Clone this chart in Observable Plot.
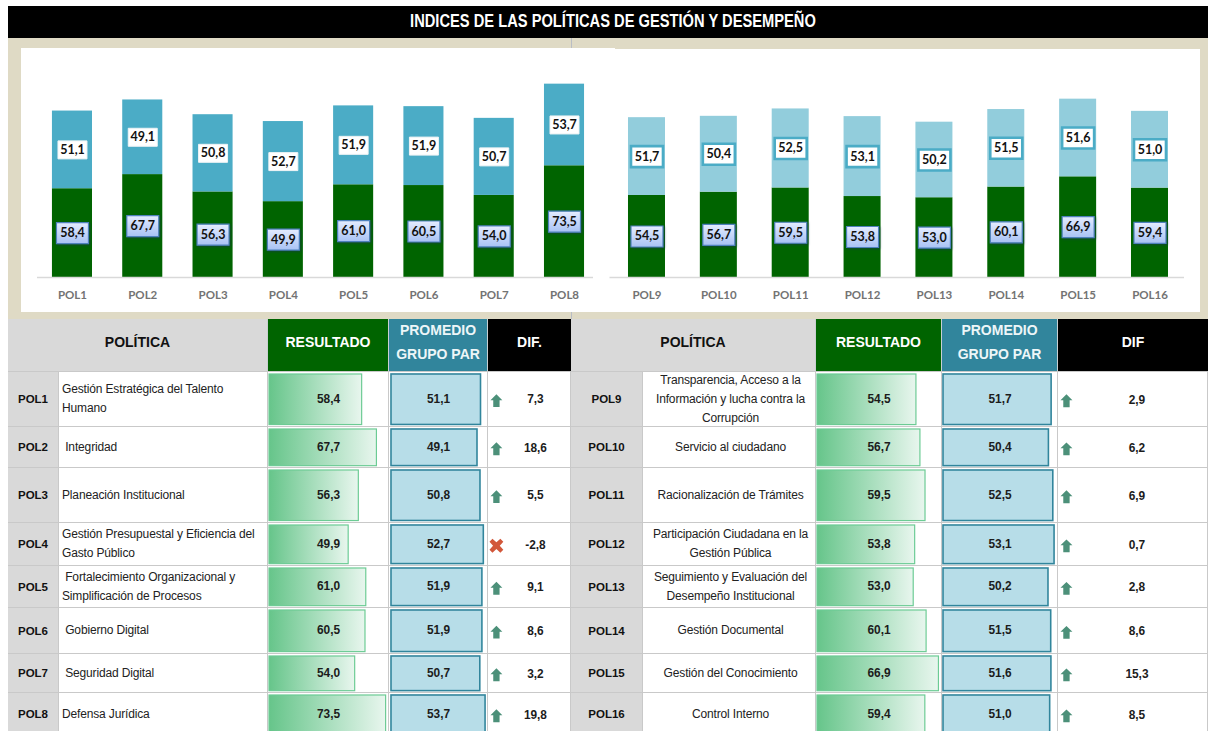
<!DOCTYPE html>
<html lang="es">
<head>
<meta charset="utf-8">
<script src="https://cdn.jsdelivr.net/npm/d3@7"></script>
<script src="https://cdn.jsdelivr.net/npm/@observablehq/plot@0.6"></script>
<style>
html,body{margin:0;padding:0;background:#fff;width:1208px;height:731px;overflow:hidden}
#page{position:relative;width:1208px;height:731px;overflow:hidden;font-family:"Liberation Sans",Arial,sans-serif}
.box{position:absolute;box-sizing:border-box}
.cell{display:flex;align-items:center;justify-content:center;text-align:center;box-sizing:border-box;position:absolute}
.shadow{filter:drop-shadow(1px 1.5px 1px rgba(30,50,90,.55))}
svg{display:block}
</style>
</head>
<body>
<svg width="0" height="0" style="position:absolute">
  <defs>
    <linearGradient id="gradBar" x1="0" x2="1" y1="0" y2="0"><stop offset="0" stop-color="#66C58A"/><stop offset="1" stop-color="#E8F6EE"/></linearGradient>
    <linearGradient id="gradEtq" x1="0" x2="0" y1="0" y2="1"><stop offset="0" stop-color="#E4ECFF"/><stop offset="1" stop-color="#A8C2F4"/></linearGradient>
  </defs>
</svg>
<div id="page"></div>
<script>
const politicas = ["POL1","POL2","POL3","POL4","POL5","POL6","POL7","POL8","POL9","POL10","POL11","POL12","POL13","POL14","POL15","POL16"];
const resultado = [58.4,67.7,56.3,49.9,61.0,60.5,54.0,73.5,54.5,56.7,59.5,53.8,53.0,60.1,66.9,59.4];
const promedio  = [51.1,49.1,50.8,52.7,51.9,51.9,50.7,53.7,51.7,50.4,52.5,53.1,50.2,51.5,51.6,51.0];
const dif       = [7.3,18.6,5.5,-2.8,9.1,8.6,3.2,19.8,2.9,6.2,6.9,0.7,2.8,8.6,15.3,8.5];
const nombres = [
 "Gestión Estratégica del Talento\nHumano"," Integridad","Planeación Institucional",
 "Gestión Presupuestal y Eficiencia del\nGasto Público"," Fortalecimiento Organizacional y\nSimplificación de Procesos",
 " Gobierno Digital"," Seguridad Digital","Defensa Jurídica",
 "Transparencia, Acceso a la\nInformación y lucha contra la\nCorrupción","Servicio al ciudadano","Racionalización de Trámites",
 "Participación Ciudadana en la\nGestión Pública","Seguimiento y Evaluación del\nDesempeño Institucional","Gestión Documental","Gestión del Conocimiento","Control Interno"];
const titulo = "INDICES DE LAS POLÍTICAS DE GESTIÓN Y DESEMPEÑO";
const encabezadoIzq = ["POLÍTICA","RESULTADO","PROMEDIO\nGRUPO PAR","DIF."];
const encabezadoDer = ["POLÍTICA","RESULTADO","PROMEDIO\nGRUPO PAR","DIF"];

const fmt = v => d3.format(".1f")(v).replace(".",",").replace("−","-");
const page = document.getElementById("page");
function box(l,t,w,h,css="",cls="box"){
  const d=document.createElement("div");d.className=cls;
  d.style.cssText=`left:${l}px;top:${t}px;width:${w}px;height:${h}px;${css}`;
  page.appendChild(d);return d;
}
// frame
box(8,6,1200,32,"background:#000");
const t=box(8,6,1200,32,"color:#fff;font:700 16.5px 'Liberation Sans Narrow','Liberation Sans',sans-serif","cell");
t.innerHTML=`<span style="display:inline-block;transform:translate(5px,-2px) scale(.89,1.1)">${titulo}</span>`;
box(8,38,1200,281,"background:#DFDAC5");
box(571,38,1,281,"background:#B9BDC4");
box(21,48,594,264,"background:#fff");
box(571,49,629,263,"background:#fff");

// charts
const rect=(w,h)=>({draw(c){c.rect(-w/2,-h/2,w,h)}});
const FONT="Lato,'Open Sans',sans-serif";
function chart(l,w,from,to,opt){
  const pols=politicas.slice(from,to);
  const filas=pols.flatMap((p,i)=>{
    const a=resultado[from+i],b=promedio[from+i];
    return [{pol:p,serie:"Resultado",valor:a,medio:a/2},{pol:p,serie:"Promedio",valor:b,medio:a+b/2}];
  });
  const verde=filas.filter(d=>d.serie==="Resultado"),azul=filas.filter(d=>d.serie==="Promedio");
  const txt={x:"pol",y:"medio",text:d=>fmt(d.valor),fontWeight:700,fontSize:12.5,fill:"#111",fontFamily:FONT};
  const svg=Plot.plot({
    width:w,height:263,marginTop:0,marginBottom:35,marginLeft:opt.ml,marginRight:opt.mr,
    style:{fontFamily:FONT,background:"transparent"},
    x:{domain:pols,padding:opt.pad,paddingOuter:opt.outer,align:opt.align,round:false,axis:null},
    y:{domain:[0,opt.top],axis:null},
    color:{domain:["Resultado","Promedio"],range:["#006400",opt.azul]},
    marks:[
      Plot.barY(filas,Plot.stackY({x:"pol",y:"valor",fill:"serie"})),
      Plot.ruleY([0],{stroke:"#D9D9D9",strokeWidth:1.5}),
      Plot.axisX({domain:pols,tickSize:0,tickPadding:13,label:null,fontWeight:700,fontSize:11.5,fill:"#737373"}),
      Plot.dot(verde,{x:"pol",y:"medio",symbol:rect(32,21),fill:"url(#gradEtq)",stroke:"#4F81BD",strokeWidth:1.2,className:"shadow"}),
      Plot.dot(azul,{x:"pol",y:"medio",symbol:opt.caja,fill:"#fff",stroke:opt.bordeEtq,strokeWidth:opt.swEtq}),
      Plot.text(verde,txt),Plot.text(azul,txt)
    ]
  });
  const d=box(l,49,w,263);d.appendChild(svg);
}
chart(21,579,0,8,{ml:16,mr:7,pad:.43,outer:.17,align:.625,top:150,azul:"#4BACC6",caja:rect(29,18),bordeEtq:"#EEF3F5",swEtq:1});
chart(600,600,8,16,{ml:9.5,mr:16,pad:.485,outer:.24,align:.536,top:151.5,azul:"#92CDDC",caja:rect(32,21),bordeEtq:"#4BACC6",swEtq:2.6});

// table
const filasY=[371,426,467,522,565,607,653,692,735];
const arrow={draw(c,s){c.moveTo(0,-6.5);c.lineTo(6,-.5);c.lineTo(3.2,-.5);c.lineTo(3.2,6.5);c.lineTo(-3.2,6.5);c.lineTo(-3.2,-.5);c.lineTo(-6,-.5);c.closePath();}};
const cross={draw(c,s){const a=3.4,b=7,e=3;c.moveTo(-b,-b+e);c.lineTo(-b+e,-b);c.lineTo(0,-a);c.lineTo(b-e,-b);c.lineTo(b,-b+e);c.lineTo(a,0);c.lineTo(b,b-e);c.lineTo(b-e,b);c.lineTo(0,a);c.lineTo(-b+e,b);c.lineTo(-b,b-e);c.lineTo(-a,0);c.closePath();}};
function mini(w,h,dom,rng,v,fill,stroke,sw){
  return Plot.plot({width:w,height:h,margin:0,marginTop:2,marginBottom:2,
    style:{fontFamily:"'Liberation Sans',Arial,sans-serif",background:"transparent"},
    x:{domain:[0,dom],range:rng,axis:null},
    marks:[
      Plot.barX([v],{x:d=>d,fill,stroke,strokeWidth:sw}),
      Plot.text([v],{frameAnchor:"middle",dy:-1,text:fmt,fontWeight:700,fontSize:12,fill:"#1c1c1c"})
    ]});
}
function tabla(cols,enc,from,to,cfg){
  const [x0,x1,x2,x3,x4,x5]=cols, top=319,hh=filasY[0]-top;
  const hdr=(l,w,bg,c,s,br)=>{const e=box(l,top,w,hh,`background:${bg};color:${c};font:700 14px/24px 'Liberation Sans',sans-serif;white-space:pre-line;${br?"border-right:1px solid #c9cfd2;":""}padding-bottom:6px`,"cell");e.textContent=s;};
  hdr(x0,x2-x0,"#D9D9D9","#111",enc[0],true);
  hdr(x2,x3-x2,"#006400","#fff",enc[1],true);
  hdr(x3,x4-x3,"#31859C","#EDF6F8",enc[2],true);
  hdr(x4,x5-x4,"#000","#fff",enc[3],false);
  for(let i=from;i<to;i++){
    const r=i-from,y=filasY[r],h=filasY[r+1]-y;
    const line="border-top:1.5px solid #C9C9C9;border-right:1.5px solid #C9C9C9;";
    const p=box(x0,y,x1-x0,h,line+"background:#D9D9D9;color:#111;font:700 11.5px 'Liberation Sans',sans-serif","cell");p.textContent=politicas[i];
    const n=box(x1,y,x2-x1,h,line+`background:#fff;color:#222;font:12px/19px 'Liberation Sans',sans-serif;white-space:pre-wrap;justify-content:${cfg.just};text-align:${cfg.ta};padding-left:3px;letter-spacing:-.15px`,"cell");n.textContent=nombres[i];
    const c1=box(x2,y,x3-x2,h,line+"background:#fff");
    c1.appendChild(mini(x3-x2,h,cfg.r[1]/cfg.r[2],[cfg.r[0],cfg.r[0]+cfg.r[1]],resultado[i],"url(#gradBar)","#6CCB94",1.2));
    const c2=box(x3,y,x4-x3,h,line+"background:#fff");
    c2.appendChild(mini(x4-x3,h,cfg.p[1]/cfg.p[2],[cfg.p[0],cfg.p[0]+cfg.p[1]],promedio[i],"#B7DDE8","#31859C",1.6));
    const c3=box(x4,y,x5-x4,h,line+"background:#fff");
    const neg=dif[i]<0;
    c3.appendChild(Plot.plot({width:x5-x4,height:h,margin:0,axis:null,
      style:{fontFamily:"'Liberation Sans',Arial,sans-serif",background:"transparent"},
      marks:[
        Plot.dot([dif[i]],{frameAnchor:"left",dx:8,dy:1,symbol:neg?cross:arrow,fill:neg?"#D2573A":"#4C9079"}),
        Plot.text([dif[i]],{frameAnchor:"middle",dx:cfg.dx,text:fmt,fontWeight:700,fontSize:12,fill:"#1c1c1c"})
      ]}));
  }
}
tabla([8,59,268,389,488,571],encabezadoIzq,0,8,{just:"flex-start",ta:"left",r:[1,118,1.6],p:[2,96,1.77],dx:6});
tabla([571,643,816,942,1058,1208],encabezadoDer,8,16,{just:"center",ta:"center",r:[1,123,1.83],p:[1,113,2.11],dx:4});
</script>
</body>
</html>
